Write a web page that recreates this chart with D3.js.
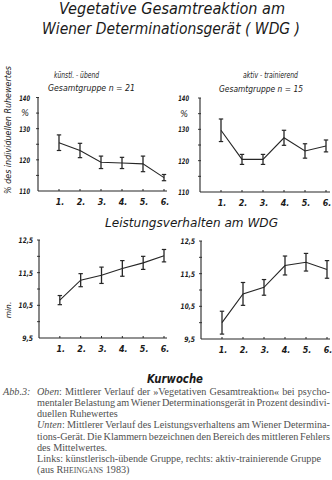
<!DOCTYPE html>
<html>
<head>
<meta charset="utf-8">
<script src="https://cdn.jsdelivr.net/npm/d3@7"></script>
<style>
  html, body { margin: 0; padding: 0; background: #fff; }
  svg { display: block; }
  .hand { font-family: "DejaVu Sans", sans-serif; font-style: italic; fill: #1a1a1a; }
  .cap { font-family: "Liberation Serif", serif; fill: #505050; font-size: 10.2px; }
</style>
</head>
<body>
<svg id="chart" width="332" height="480"></svg>
<script>
// Kurwoche (treatment week)
const weeks = [1, 2, 3, 4, 5, 6];
const weekLabels = ["1.", "2.", "3.", "4.", "5.", "6."];

// Vegetative Gesamtreaktion, % of individual resting value (mean, mean error)
const vegKuenstl = [125.5, 123.0, 119.2, 119.0, 118.7, 114.3];
const vegKuenstlErr = [2.5, 2.3, 2.0, 1.8, 2.5, 1.0];
const vegAktiv = [129.7, 120.4, 120.4, 127.3, 123.1, 124.7];
const vegAktivErr = [3.6, 1.6, 1.6, 2.4, 2.3, 1.9];

// Leistungsverhalten am WDG, minutes (mean, mean error)
const leiKuenstl = [10.66, 11.27, 11.42, 11.63, 11.80, 12.02];
const leiKuenstlErr = [0.14, 0.20, 0.25, 0.24, 0.20, 0.19];
const leiAktiv = [10.0, 10.88, 11.08, 11.75, 11.85, 11.63];
const leiAktivErr = [0.35, 0.35, 0.24, 0.29, 0.27, 0.27];

// axis ticks
const vegTicks = [110, 120, 130, 140];
const vegMinor = [115, 125, 135];
const leiTicks = [9.5, 10.5, 11.5, 12.5];
const leiMinor = [10, 11, 12];

const svg = d3.select("#chart");
const ink = "#262626";

// titles
svg.append("text").attr("class", "hand").attr("x", 172).attr("y", 14)
  .attr("text-anchor", "middle").attr("font-size", 15.5)
  .attr("textLength", 226).attr("lengthAdjust", "spacingAndGlyphs")
  .text("Vegetative Gesamtreaktion am");
svg.append("text").attr("class", "hand").attr("x", 171).attr("y", 34)
  .attr("text-anchor", "middle").attr("font-size", 15.5)
  .attr("textLength", 258).attr("lengthAdjust", "spacingAndGlyphs")
  .text("Wiener Determinationsgerät ( WDG )");
svg.append("text").attr("class", "hand").attr("x", 191.5).attr("y", 227)
  .attr("text-anchor", "middle").attr("font-size", 12.5)
  .attr("textLength", 173).attr("lengthAdjust", "spacingAndGlyphs")
  .text("Leistungsverhalten am WDG");

// rotated y-axis titles
svg.append("text").attr("class", "hand")
  .attr("transform", "translate(11,130) rotate(-90)")
  .attr("text-anchor", "middle").attr("font-size", 9)
  .attr("textLength", 128).attr("lengthAdjust", "spacingAndGlyphs")
  .text("% des individuellen Ruhewertes");
svg.append("text").attr("class", "hand")
  .attr("transform", "translate(11,310) rotate(-90)")
  .attr("text-anchor", "middle").attr("font-size", 7.5)
  .text("min.");

function panel(opts) {
  const g = svg.append("g");
  const x = d3.scaleLinear().domain([0, 6]).range([opts.x0, opts.x6]);
  const y = d3.scaleLinear().domain(opts.domain).range([opts.yBottom, opts.yTop]);

  // axes
  g.append("line").attr("x1", opts.x0).attr("x2", opts.x0)
    .attr("y1", y(opts.domain[1])).attr("y2", y(opts.domain[0]))
    .attr("stroke", ink).attr("stroke-width", 1.1);
  g.append("line").attr("x1", opts.x0).attr("x2", opts.xEnd)
    .attr("y1", y(opts.domain[0])).attr("y2", y(opts.domain[0]))
    .attr("stroke", ink).attr("stroke-width", 1.1);

  // y ticks
  const yTicks = opts.ticks.slice(1).concat(opts.minor);
  g.selectAll(".yt").data(yTicks).join("line")
    .attr("x1", opts.x0 - 2).attr("x2", opts.x0 + 1)
    .attr("y1", d => y(d)).attr("y2", d => y(d))
    .attr("stroke", ink).attr("stroke-width", 0.9);
  g.selectAll(".yl").data(opts.ticks).join("text")
    .attr("class", "hand").attr("font-size", 7.6).attr("font-weight", "bold")
    .attr("text-anchor", "end")
    .attr("x", opts.x0 - opts.labelGap).attr("y", d => y(d) + 3)
    .attr("textLength", d => opts.fmt(d).length * 3.6)
    .attr("lengthAdjust", "spacingAndGlyphs")
    .text(d => opts.fmt(d));
  if (opts.percent) {
    g.append("text").attr("class", "hand").attr("font-size", 8.5)
      .attr("text-anchor", "end").attr("x", opts.x0 - opts.labelGap - 1)
      .attr("y", y(135) + 3).text("%");
  }

  // x ticks and labels
  g.selectAll(".xt").data(weeks).join("line")
    .attr("x1", d => x(d)).attr("x2", d => x(d))
    .attr("y1", y(opts.domain[0]) - 2).attr("y2", y(opts.domain[0]))
    .attr("stroke", ink).attr("stroke-width", 1);
  g.selectAll(".xl").data(weeks).join("text")
    .attr("class", "hand").attr("font-size", 8).attr("font-weight", "bold")
    .attr("text-anchor", "middle")
    .attr("x", d => x(d) + 1).attr("y", y(opts.domain[0]) + 14)
    .text((d, i) => weekLabels[i]);

  // mean line
  const line = d3.line().x((d, i) => x(weeks[i])).y(d => y(d));
  g.append("path").datum(opts.values).attr("d", line)
    .attr("fill", "none").attr("stroke", ink).attr("stroke-width", 1.1);

  // error brackets
  const eb = g.selectAll(".eb").data(opts.values).join("g");
  eb.append("line")
    .attr("x1", (d, i) => x(weeks[i])).attr("x2", (d, i) => x(weeks[i]))
    .attr("y1", (d, i) => y(d + opts.err[i])).attr("y2", (d, i) => y(d - opts.err[i]))
    .attr("stroke", ink).attr("stroke-width", 1.3);
  [1, -1].forEach(s => {
    eb.append("line")
      .attr("x1", (d, i) => x(weeks[i]) - 2.2).attr("x2", (d, i) => x(weeks[i]) + 2.2)
      .attr("y1", (d, i) => y(d + s * opts.err[i])).attr("y2", (d, i) => y(d + s * opts.err[i]))
      .attr("stroke", ink).attr("stroke-width", 1.2);
  });

  // group headings
  if (opts.heads) {
    opts.heads.forEach(h => {
      g.append("text").attr("class", "hand").attr("font-size", 8.5)
        .attr("x", h.x).attr("y", h.y)
        .attr("textLength", h.w).attr("lengthAdjust", "spacingAndGlyphs")
        .text(h.t);
    });
  }
}

const fmtVeg = d => String(d);
const fmtLei = d => String(d).replace(".", ",");

panel({ x0: 38, x6: 164, xEnd: 167, domain: [110, 140], yBottom: 191, yTop: 97.5,
  ticks: vegTicks, minor: vegMinor, fmt: fmtVeg, labelGap: 8, percent: true,
  values: vegKuenstl, err: vegKuenstlErr,
  heads: [{ t: "künstl. - übend", x: 54, y: 78, w: 45 },
          { t: "Gesamtgruppe  n = 21", x: 48, y: 91, w: 87 }] });

panel({ x0: 200, x6: 326, xEnd: 330, domain: [110, 140], yBottom: 192, yTop: 98,
  ticks: vegTicks, minor: vegMinor, fmt: fmtVeg, labelGap: 11, percent: true,
  values: vegAktiv, err: vegAktivErr,
  heads: [{ t: "aktiv - trainierend", x: 243, y: 78, w: 55 },
          { t: "Gesamtgruppe  n = 15", x: 219, y: 92, w: 84 }] });

panel({ x0: 39, x6: 164, xEnd: 167, domain: [9.5, 12.5], yBottom: 338, yTop: 240,
  ticks: leiTicks, minor: leiMinor, fmt: fmtLei, labelGap: 6,
  values: leiKuenstl, err: leiKuenstlErr });

panel({ x0: 201, x6: 327, xEnd: 330, domain: [9.5, 12.5], yBottom: 339, yTop: 241,
  ticks: leiTicks, minor: leiMinor, fmt: fmtLei, labelGap: 6,
  values: leiAktiv, err: leiAktivErr });

// x-axis title
svg.append("text").attr("class", "hand").attr("x", 175).attr("y", 383)
  .attr("text-anchor", "middle").attr("font-size", 12.5).attr("font-weight", "bold")
  .attr("textLength", 56).attr("lengthAdjust", "spacingAndGlyphs")
  .text("Kurwoche");

// caption
const capX = 37, capRight = 330, capY0 = 395, capStep = 11.15;
svg.append("text").attr("class", "cap").attr("x", 3).attr("y", capY0)
  .attr("font-style", "italic").text("Abb.3:");

const capLines = [
  { parts: [["Oben", true], [": Mittlerer Verlauf der »Vegetativen Gesamtreaktion« bei psycho-", false]], justify: true },
  { parts: [["mentaler Belastung am Wiener Determinationsgerät in Prozent desindivi-", false]], justify: true },
  { parts: [["duellen Ruhewertes", false]], justify: false },
  { parts: [["Unten", true], [": Mittlerer Verlauf des Leistungsverhaltens am Wiener Determina-", false]], justify: true },
  { parts: [["tions-Gerät. Die Klammern bezeichnen den Bereich des mittleren Fehlers", false]], justify: true },
  { parts: [["des Mittelwertes.", false]], justify: false },
  { parts: [["Links: künstlerisch-übende Gruppe, rechts: aktiv-trainierende Gruppe", false]], justify: false },
  { parts: [["(aus R", false], ["heingans", "sc"], [" 1983)", false]], justify: false }
];

capLines.forEach((ln, i) => {
  const t = svg.append("text").attr("class", "cap").attr("x", capX).attr("y", capY0 + i * capStep);
  ln.parts.forEach(([s, style]) => {
    const ts = t.append("tspan").text(s);
    if (style === true) ts.attr("font-style", "italic");
    if (style === "sc") ts.attr("font-size", 7.8).text(s.toUpperCase());
  });
  if (ln.justify) {
    const w = t.node().getComputedTextLength();
    const full = ln.parts.map(p => p[0]).join("");
    const spaces = (full.match(/ /g) || []).length;
    if (spaces > 0) t.attr("word-spacing", (capRight - capX - w) / spaces);
  }
});
</script>
</body>
</html>
